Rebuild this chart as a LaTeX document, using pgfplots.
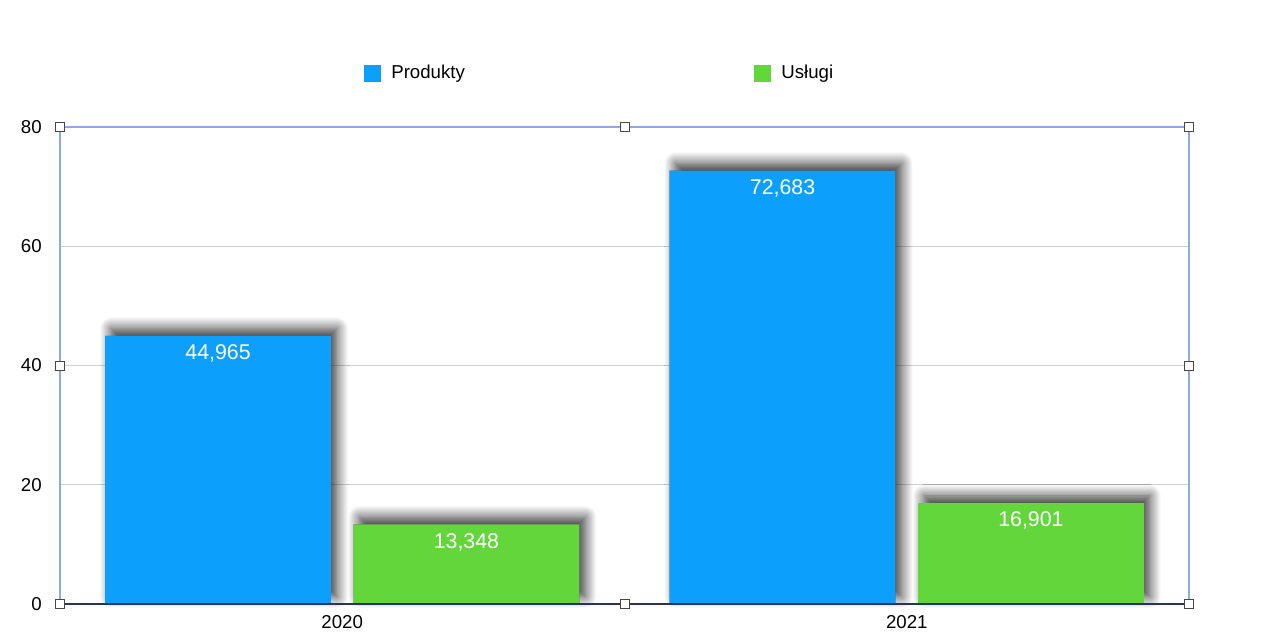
\documentclass[border=0pt]{standalone}
\usepackage{fontspec}
\setmainfont{Liberation Sans}
\usepackage{pgfplots}
\pgfplotsset{compat=1.18}
\usetikzlibrary{shadows.blur}
\definecolor{prodblue}{RGB}{12,160,252}
\definecolor{uslgreen}{RGB}{98,214,58}
\definecolor{gridgray}{RGB}{208,208,208}
\definecolor{borderblue}{RGB}{140,170,232}
\definecolor{navyline}{RGB}{40,50,100}
\definecolor{handlegray}{RGB}{70,70,70}
\tikzset{handle/.style={draw=handlegray, fill=white, minimum size=6.75pt, inner sep=0pt, line width=0.75pt}}
\begin{document}
\begin{tikzpicture}
\begin{axis}[
  at={(0,0)}, anchor=south west,
  scale only axis, width=846.75pt, height=357.75pt,
  xmin=0, xmax=2, ymin=0, ymax=80,
  xtick={0.5,1.5}, xticklabels={2020,2021},
  ytick={0,20,40,60,80},
  major tick length=0pt, tick style={draw=none},
  extra y ticks={20,40,60}, extra y tick labels={},
  extra y tick style={grid=major, grid style={draw=gridgray, line width=0.75pt}},
  axis line style={draw=none},
  every outer x axis line/.append style={draw=none},
  every outer y axis line/.append style={draw=none},
  tick label style={font=\fontsize{14pt}{16pt}\selectfont, inner sep=0pt},
  yticklabel style={anchor=east, xshift=-13.5pt},
  xticklabel style={anchor=north, yshift=-8.6pt},
  /pgf/number format/assume math mode=true,
  clip=false,
  ybar, bar width=0.4,
  legend columns=2,
  legend style={at={(rel axis cs:0.2693,1.1132)}, anchor=west, draw=none, fill=none,
    inner sep=0pt, font=\fontsize{14pt}{16pt}\selectfont,
    nodes={inner sep=0pt},
    /tikz/every odd column/.append style={column sep=7.5pt}},
  legend image code/.code={\fill[#1] (0pt,-6.375pt) rectangle (12.75pt,6.375pt);},
]
% shadows
\addplot[forget plot, fill=black!70, draw=none, bar shift=-0.22,
  blur shadow={shadow xshift=4.5pt, shadow yshift=5.5pt, shadow blur radius=8.5pt, shadow opacity=80, shadow blur steps=12}]
  coordinates {(0.5,44.965) (1.5,72.683)};
\addplot[forget plot, fill=black!70, draw=none, bar shift=0.22,
  blur shadow={shadow xshift=4.5pt, shadow yshift=5.5pt, shadow blur radius=8.5pt, shadow opacity=80, shadow blur steps=12}]
  coordinates {(0.5,13.348) (1.5,16.901)};
% bars
\addplot[fill=prodblue, draw=none, bar shift=-0.22,
  nodes near coords={\pgfmathprintnumber[fixed,precision=3,zerofill,use comma,assume math mode=true]{\pgfplotspointmeta}},
  every node near coord/.append style={font=\fontsize{16pt}{18pt}\selectfont, text=white, anchor=north, inner sep=0pt, yshift=-6.4pt}]
  coordinates {(0.5,44.965) (1.5,72.683)};
\addlegendentry{\makebox[272.25pt][l]{Produkty}}
\addplot[fill=uslgreen, draw=none, bar shift=0.22,
  nodes near coords={\pgfmathprintnumber[fixed,precision=3,zerofill,use comma,assume math mode=true]{\pgfplotspointmeta}},
  every node near coord/.append style={font=\fontsize{16pt}{18pt}\selectfont, text=white, anchor=north, inner sep=0pt, yshift=-6.4pt}]
  coordinates {(0.5,13.348) (1.5,16.901)};
\addlegendentry{Usługi}
% plot-area border, bottom axis line and selection handles
\draw[borderblue, line width=0.9pt] (rel axis cs:0,0) rectangle (rel axis cs:1,1);
\draw[navyline, line width=1.5pt] (rel axis cs:0,0) -- (rel axis cs:1,0);
\node[handle] at (rel axis cs:0,0) {};
\node[handle] at (rel axis cs:0.5,0) {};
\node[handle] at (rel axis cs:1,0) {};
\node[handle] at (rel axis cs:0,0.5) {};
\node[handle] at (rel axis cs:1,0.5) {};
\node[handle] at (rel axis cs:0,1) {};
\node[handle] at (rel axis cs:0.5,1) {};
\node[handle] at (rel axis cs:1,1) {};
\end{axis}
\path[use as bounding box] (-45pt,-25.5pt) rectangle (915pt,453pt);
\end{tikzpicture}
\end{document}
